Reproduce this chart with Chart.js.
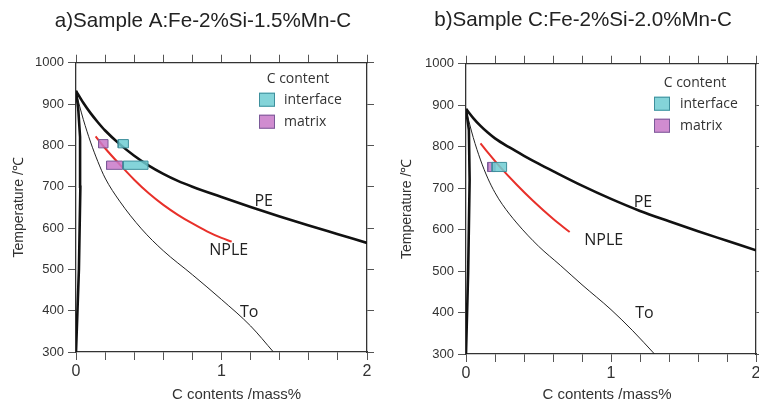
<!DOCTYPE html>
<html><head><meta charset="utf-8">
<script src="https://cdn.jsdelivr.net/npm/chart.js@4/dist/chart.umd.min.js"></script>
<style>
html,body{margin:0;padding:0;background:#fff;overflow:hidden;width:759px;height:403px}
canvas{position:absolute;top:0}
#c1{left:0}
#c2{left:396px}
</style></head><body>
<canvas id="c1" width="406" height="403"></canvas>
<canvas id="c2" width="374" height="403"></canvas>
<script>
// ---------- data ----------
const xTickLabels = ['0', '1', '2'];
const yTickValues = [300, 400, 500, 600, 700, 800, 900, 1000];

const titleA = 'a)Sample A:Fe-2%Si-1.5%Mn-C';
const titleB = 'b)Sample C:Fe-2%Si-2.0%Mn-C';
const xTitle = 'C contents /mass%';
const yTitle = 'Temperature /\u2103';
const legendTitle = 'C content';
const legendNames = ['interface', 'matrix'];
const curveNames = ['PE', 'NPLE', 'To'];

// Sample A
const aPE_C   = [0, 0.05, 0.1, 0.15, 0.2, 0.3, 0.4, 0.5, 0.6, 0.7, 0.8, 1.0, 1.2, 1.4, 1.6, 1.8, 2.0];
const aPE_T   = [932, 903, 878, 856, 836, 803, 775, 751, 731, 714, 700, 675, 651, 628, 606, 585, 564];
const aNPLE_C = [0.135, 0.2, 0.3, 0.4, 0.5, 0.6, 0.7, 0.8, 0.9, 1.0, 1.07];
const aNPLE_T = [822, 793, 754, 717, 684, 656, 632, 611, 592, 576, 567];
const aTo_C   = [0, 0.05, 0.1, 0.15, 0.2, 0.3, 0.45, 0.6, 0.8, 1.0, 1.2, 1.357];
const aTo_T   = [928, 863, 808, 761, 721, 665, 598, 545, 487, 427, 363, 300];
const aAlpha_C = [0, 0.02, 0.03, 0.028, 0.015, 0];
const aAlpha_T = [300, 500, 700, 820, 890, 932];
// boxes: [C from, C to, temperature]
const aInterface = [[0.29, 0.36, 804], [0.325, 0.495, 752]];
const aMatrix    = [[0.155, 0.22, 804], [0.21, 0.32, 752]];

// Sample C
const bPE_C   = [0, 0.05, 0.1, 0.15, 0.2, 0.3, 0.4, 0.5, 0.6, 0.8, 1.0, 1.2, 1.4, 1.6, 1.8, 2.0];
const bPE_T   = [891, 869, 850, 834, 820, 798, 778, 759, 741, 706, 674, 645, 620, 596, 573, 550];
const bNPLE_C = [0.1, 0.15, 0.23, 0.35, 0.46, 0.6, 0.715];
const bNPLE_T = [808, 786, 753, 708, 670, 626, 594];
const bTo_C   = [0, 0.05, 0.1, 0.15, 0.2, 0.25, 0.35, 0.5, 0.65, 0.8, 1.0, 1.15, 1.3];
const bTo_T   = [888, 822, 768, 724, 689, 661, 616, 560, 514, 467, 407, 356, 300];
const bAlpha_C = [0, 0.015, 0.025, 0.02, 0];
const bAlpha_T = [300, 500, 720, 840, 891];
const bInterface = [[0.18, 0.28, 751]];
const bMatrix    = [[0.15, 0.20, 751]];

// ---------- helpers ----------
const pts = (cs, ts) => cs.map((c, i) => ({x: c, y: ts[i]}));
const INTER_FILL = 'rgba(110,205,210,0.85)', INTER_BORDER = '#3e8f9c';
const MATRIX_FILL = 'rgba(200,120,200,0.85)', MATRIX_BORDER = '#7a5a98';

function boxSets(arr, fill, border, half) {
  return arr.map(([c0, c1, t]) => ({
    data: [{x:c0,y:t-half},{x:c1,y:t-half},{x:c1,y:t+half},{x:c0,y:t+half},{x:c0,y:t-half}],
    fill: 'shape', backgroundColor: fill, borderColor: border, borderWidth: 1,
    pointRadius: 0, tension: 0
  }));
}
function curve(cs, ts, color, width, smooth) {
  return {
    data: pts(cs, ts), borderColor: color, borderWidth: width, pointRadius: 0,
    fill: false, tension: smooth ? 0.4 : 0, cubicInterpolationMode: smooth ? 'monotone' : 'default'
  };
}

const annot = {
  id: 'annot',
  afterDraw(chart, args, o) {
    const {ctx, chartArea: a, scales: {x, y}} = chart;
    ctx.save();
    ctx.fillStyle = '#222';
    ctx.textBaseline = 'middle';
    ctx.textAlign = 'center';
    ctx.font = '16px "Open Sans"';
    o.labels.forEach(l => ctx.fillText(l.text, x.getPixelForValue(l.c), y.getPixelForValue(l.t)));
    // x title
    ctx.font = '15px "Liberation Sans"';
    ctx.fillStyle = '#333';
    ctx.fillText(xTitle, (a.left + a.right) / 2 + o.xTitleDx, o.xTitleY);
    // legend
    const L = o.legend;
    ctx.fillStyle = '#333';
    ctx.font = '14px "Open Sans"';
    ctx.fillText(legendTitle, a.right - L.titleDx, a.top + L.titleDy);
    ctx.textAlign = 'left';
    [[INTER_FILL, INTER_BORDER], [MATRIX_FILL, MATRIX_BORDER]].forEach(([f, b], i) => {
      const bx = a.right - L.boxDx, by = a.top + L.rowDy[i];
      ctx.fillStyle = f; ctx.strokeStyle = b; ctx.lineWidth = 1;
      ctx.fillRect(bx, by, 16, 14); ctx.strokeRect(bx + 0.5, by + 0.5, 15, 13);
      ctx.fillStyle = '#333';
      ctx.fillText(legendNames[i], a.right - L.textDx, by + 7);
    });
    ctx.restore();
  }
};

function make(id, o) {
  const datasets = [
    ...boxSets(o.inter, INTER_FILL, INTER_BORDER, o.half),
    ...boxSets(o.matrix, MATRIX_FILL, MATRIX_BORDER, o.half),
    curve(o.alphaC, o.alphaT, '#111', 2.6, false),
    curve(o.peC, o.peT, '#111', 2.6, true),
    curve(o.npleC, o.npleT, '#e8302a', 2, true),
    curve(o.toC, o.toT, '#222', 1, true)
  ];
  const gridOpt = (len) => ({drawOnChartArea: false, drawTicks: true, tickLength: len, color: '#555', lineWidth: 1});
  const borderOpt = {display: true, color: '#333', width: 1.3};
  new Chart(document.getElementById(id), {
    type: 'line',
    data: {datasets},
    plugins: [annot],
    options: {
      responsive: false, animation: false, devicePixelRatio: 1,
      layout: {padding: 0},
      plugins: {
        legend: {display: false}, tooltip: {enabled: false},
        title: {display: true, text: o.title, color: '#222',
          font: {family: '"Liberation Sans"', size: 20.6, weight: 'normal'},
          padding: {top: o.tPadTop, bottom: o.tPadBottom}},
        annot: {labels: o.labels, xTitleDx: o.xTitleDx, xTitleY: 395, legend: o.legend}
      },
      scales: {
        x: {type: 'linear', position: 'bottom', min: 0, max: 2,
          ticks: {stepSize: 0.2, autoSkip: false, maxRotation: 0, color: '#333', padding: 2,
            font: {family: '"Liberation Sans"', size: 16},
            callback: v => Math.abs(v - Math.round(v)) < 1e-6 ? xTickLabels[Math.round(v)] : ''},
          grid: gridOpt(8), border: borderOpt,
          afterFit: s => { s.height = o.xH; }},
        x2: {type: 'linear', position: 'top', min: 0, max: 2,
          ticks: {stepSize: 0.2, display: false},
          grid: gridOpt(8), border: borderOpt,
          afterFit: s => { s.height = 8; }},
        y: {type: 'linear', position: 'left', min: 300, max: 1000,
          afterBuildTicks: s => { s.ticks = yTickValues.map(v => ({value: v})); },
          ticks: {color: '#333', padding: 4, font: {family: '"Liberation Sans"', size: 13},
            callback: v => String(v)},
          grid: gridOpt(8), border: borderOpt,
          title: {display: true, text: yTitle, color: '#333',
            font: {family: '"Liberation Sans"', size: 14}, padding: {top: o.yTitlePad, bottom: 0}},
          afterFit: s => { s.width = o.yW; }},
        y2: {type: 'linear', position: 'right', min: 300, max: 1000,
          afterBuildTicks: s => { s.ticks = yTickValues.map(v => ({value: v})); },
          ticks: {display: false},
          grid: gridOpt(7), border: borderOpt,
          afterFit: s => { s.width = o.y2W; }}
      }
    }
  });
}

make('c1', {
  title: titleA, tPadTop: 9, tPadBottom: 21, xH: 51, yW: 76, y2W: 39, yTitlePad: 10.6, xTitleDx: 15,
  inter: aInterface, matrix: aMatrix, half: 10,
  alphaC: aAlpha_C, alphaT: aAlpha_T, peC: aPE_C, peT: aPE_T,
  npleC: aNPLE_C, npleT: aNPLE_T, toC: aTo_C, toT: aTo_T,
  labels: [{text: curveNames[0], c: 1.29, t: 664}, {text: curveNames[1], c: 1.05, t: 546}, {text: curveNames[2], c: 1.19, t: 396}],
  legend: {titleDx: 69, titleDy: 16, boxDx: 108, textDx: 83, rowDy: [30, 52]}
});
make('c2', {
  title: titleB, tPadTop: 8, tPadBottom: 23, xH: 49, yW: 70, y2W: 14, yTitlePad: 2.6, xTitleDx: -4,
  inter: bInterface, matrix: bMatrix, half: 11,
  alphaC: bAlpha_C, alphaT: bAlpha_T, peC: bPE_C, peT: bPE_T,
  npleC: bNPLE_C, npleT: bNPLE_T, toC: bTo_C, toT: bTo_T,
  labels: [{text: curveNames[0], c: 1.22, t: 666}, {text: curveNames[1], c: 0.95, t: 574}, {text: curveNames[2], c: 1.23, t: 399}],
  legend: {titleDx: 61, titleDy: 19, boxDx: 102, textDx: 76, rowDy: [33, 55]}
});
</script>
</body></html>
